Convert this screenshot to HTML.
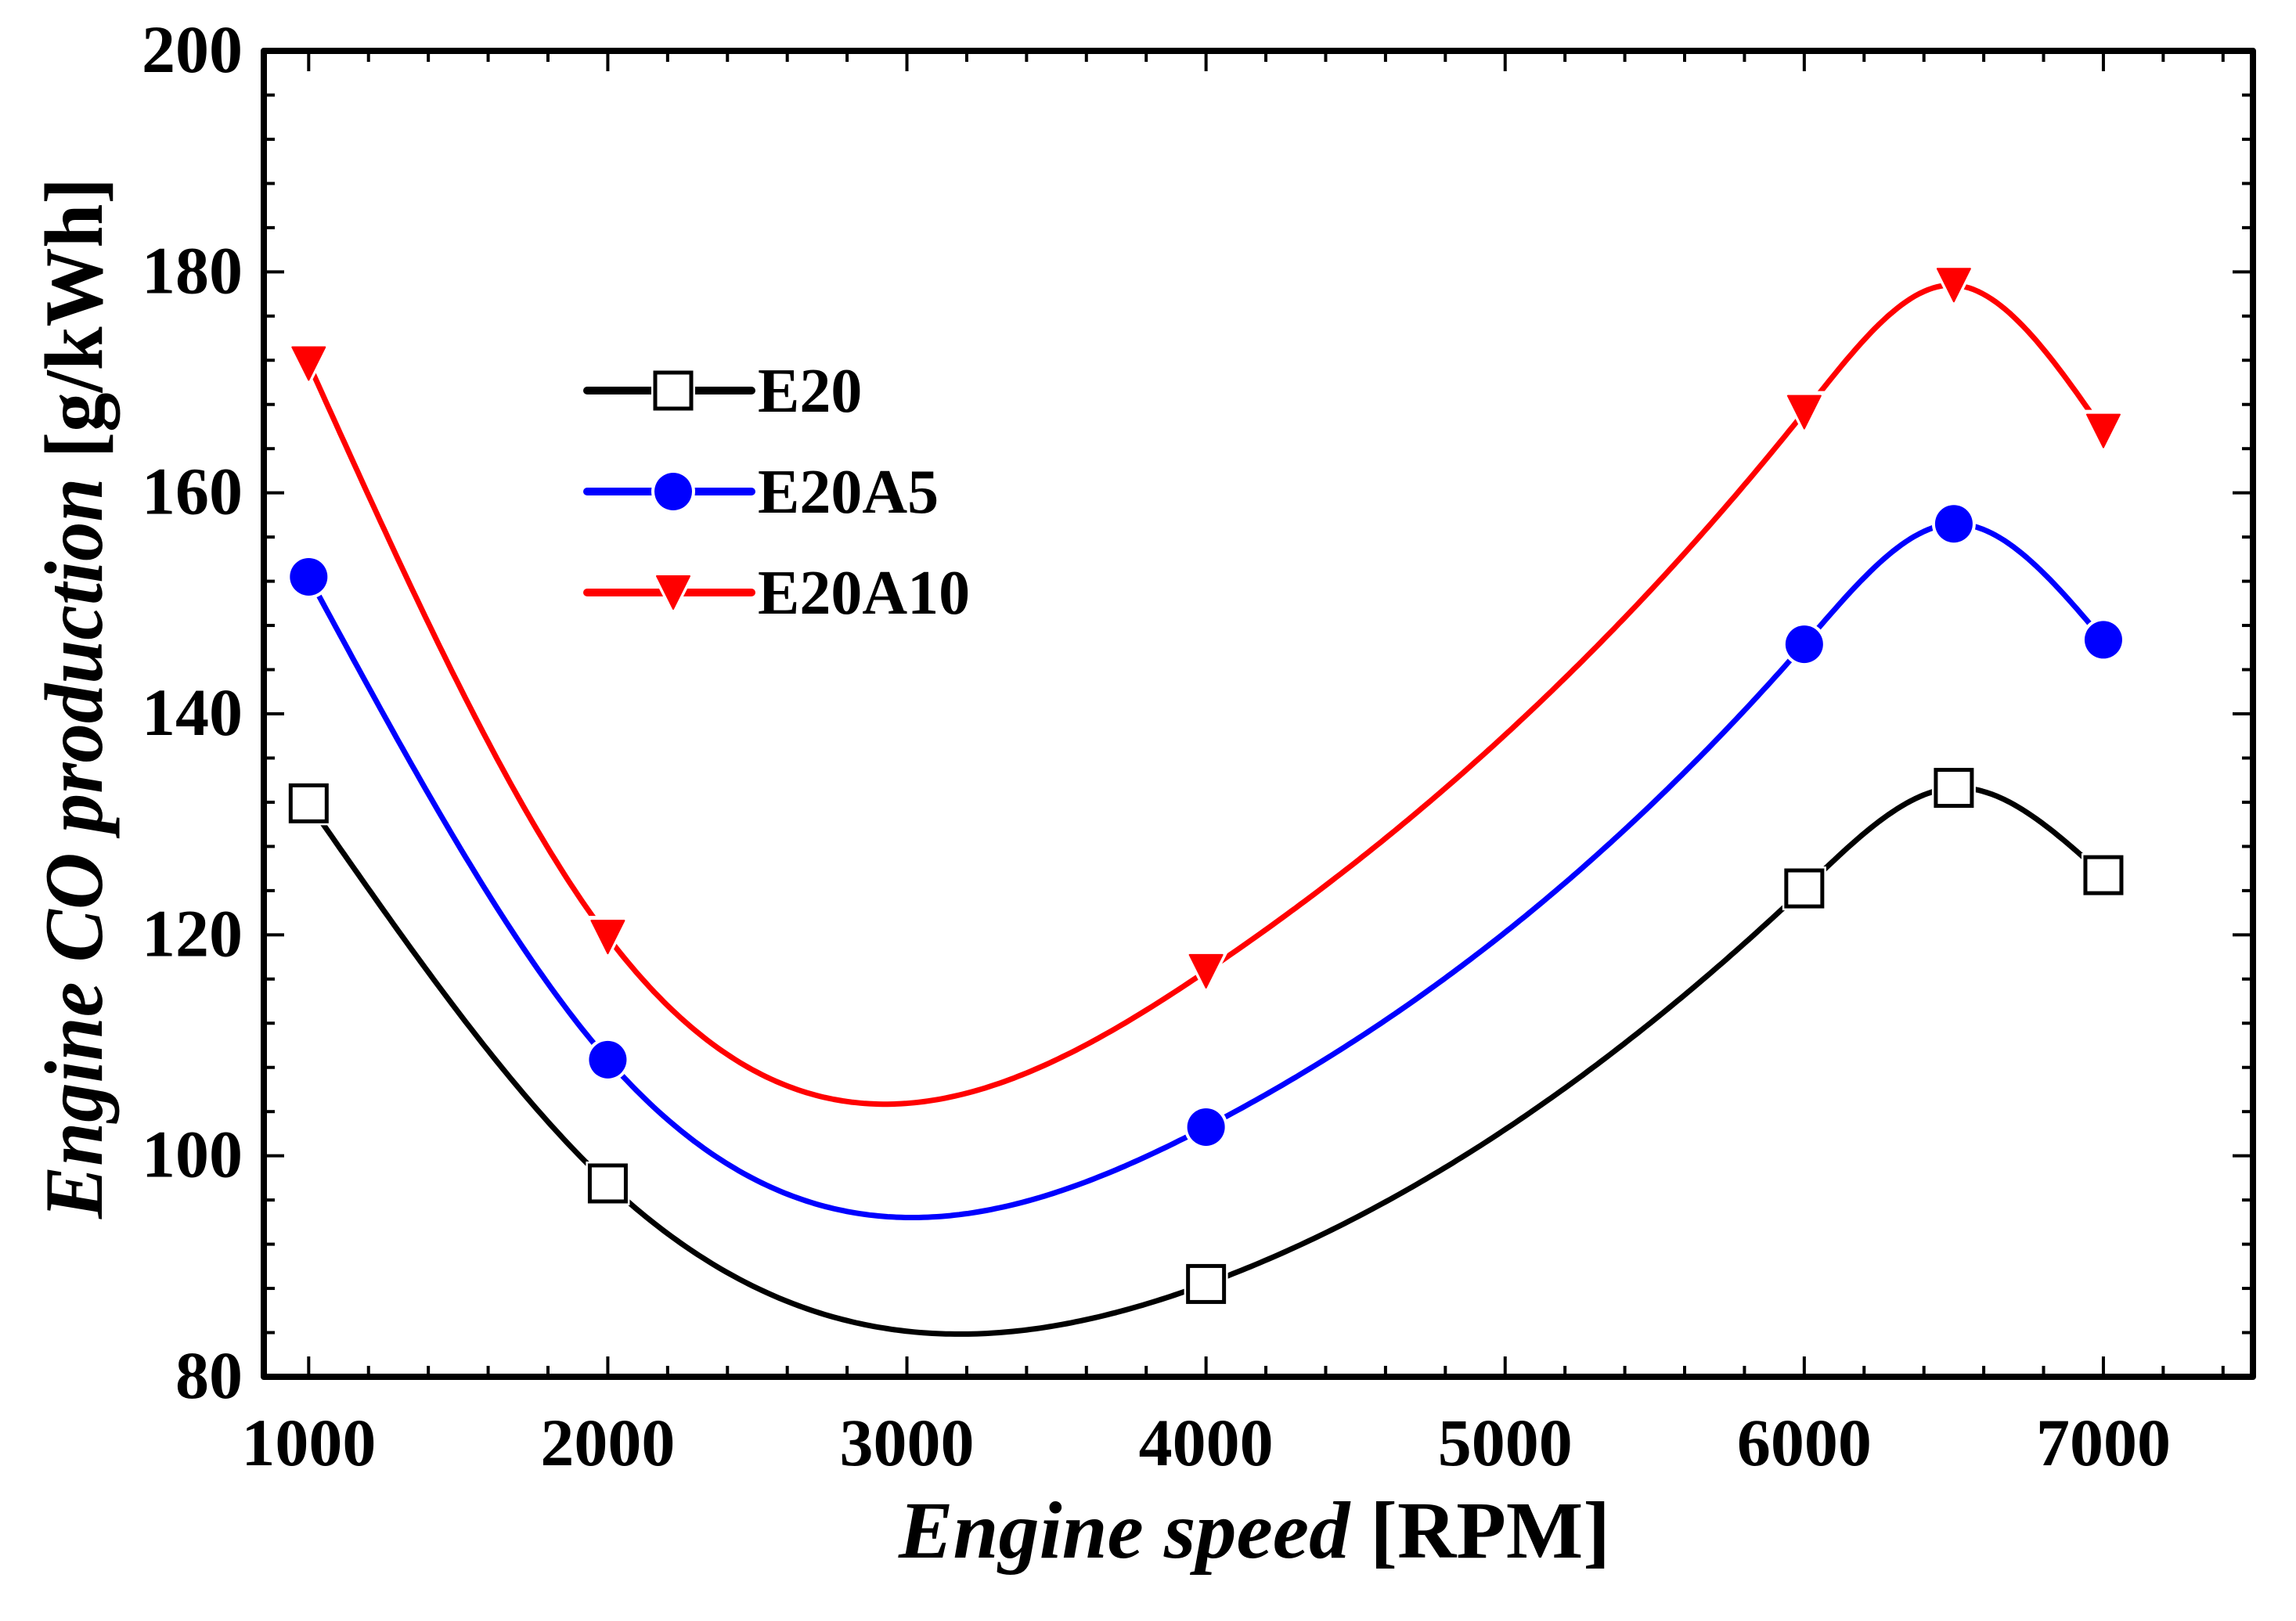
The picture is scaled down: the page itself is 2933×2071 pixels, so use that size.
<!DOCTYPE html>
<html><head><meta charset="utf-8"><style>
html,body{margin:0;padding:0;background:#fff;}
svg{display:block;}
text{font-family:"Liberation Serif",serif;font-weight:bold;fill:#000;}
</style></head><body>
<svg id="chart" width="2933" height="2071" viewBox="0 0 2933 2071" xmlns="http://www.w3.org/2000/svg">
<rect x="0" y="0" width="2933" height="2071" fill="#fff"/>
<g id="curves"></g>
<g id="markers"></g>
<g id="axes"></g>
<text x="1148" y="1990" font-size="104" textLength="909" lengthAdjust="spacingAndGlyphs"><tspan font-style="italic">Engine speed</tspan> [RPM]</text>
<text transform="translate(130,1557) rotate(-90)" x="0" y="0" font-size="106" textLength="1330" lengthAdjust="spacingAndGlyphs"><tspan font-style="italic">Engine CO production</tspan> [g/kWh]</text>
<g id="legend"></g>
</svg>
<script>
const categories = [1000, 2000, 4000, 6000, 6500, 7000];
const seriesE20 = [131.9, 97.5, 88.4, 124.2, 133.3, 125.4];
const seriesE20A5 = [152.4, 108.7, 102.6, 146.3, 157.2, 146.7];
const seriesE20A10 = [171.7, 119.8, 116.7, 167.3, 178.8, 165.6];
const seriesNames = ["E20", "E20A5", "E20A10"];
const xTickLabels = [1000, 2000, 3000, 4000, 5000, 6000, 7000];
const yTickLabels = [80, 100, 120, 140, 160, 180, 200];

const NS = "http://www.w3.org/2000/svg";
const L = 337, R = 2878, T = 65, B = 1759;
const XMIN = 850, XMAX = 7500, YMIN = 80, YMAX = 200;
function xs(v){ return L + (v - XMIN) / (XMAX - XMIN) * (R - L); }
function ys(v){ return B - (v - YMIN) / (YMAX - YMIN) * (B - T); }
function mk(tag, attrs, parent){ const e = document.createElementNS(NS, tag); for (const k in attrs) e.setAttribute(k, attrs[k]); parent.appendChild(e); return e; }

const axes = document.getElementById('axes');
// frame
const frame = mk('rect', {x:L, y:T, width:R-L, height:B-T, fill:'none', stroke:'#000', 'stroke-width':8, 'stroke-linejoin':'round'}, axes);


// x ticks
for (let v = 1000; v <= 7400; v += 200) {
  const major = (v % 1000 === 0);
  const len = major ? 26 : 14;
  const x = xs(v);
  const t1 = mk('line', {x1:x, y1:B, x2:x, y2:B-len, stroke:'#000', 'stroke-width':4}, axes);
  
  
  const t2 = mk('line', {x1:x, y1:T, x2:x, y2:T+len, stroke:'#000', 'stroke-width':4}, axes);
  
  
}
xTickLabels.forEach(v => {
  const t = mk('text', {x:xs(v), y:1872, 'font-size':86, 'text-anchor':'middle'}, axes);
  t.textContent = v;
  
  
});
// y ticks
for (let v = 84; v < 200; v += 4) {
  const major = (v % 20 === 0);
  const len = major ? 26 : 14;
  const y = ys(v);
  const t1 = mk('line', {x1:L, y1:y, x2:L+len, y2:y, stroke:'#000', 'stroke-width':4}, axes);
  
  
  const t2 = mk('line', {x1:R, y1:y, x2:R-len, y2:y, stroke:'#000', 'stroke-width':4}, axes);
  
  
}
yTickLabels.forEach(v => {
  const t = mk('text', {x:310, y:ys(v)+27, 'font-size':86, 'text-anchor':'end'}, axes);
  t.textContent = v;
  
  
});

// natural cubic spline
function spline(xv, yv){
  const n = xv.length, h = [], al = [0], l = [1], mu = [0], z = [0], c = new Array(n).fill(0), b = [], d = [];
  for (let i = 0; i < n-1; i++) h.push(xv[i+1]-xv[i]);
  for (let i = 1; i < n-1; i++) al.push(3/h[i]*(yv[i+1]-yv[i]) - 3/h[i-1]*(yv[i]-yv[i-1]));
  for (let i = 1; i < n-1; i++) { l[i] = 2*(xv[i+1]-xv[i-1]) - h[i-1]*mu[i-1]; mu[i] = h[i]/l[i]; z[i] = (al[i]-h[i-1]*z[i-1])/l[i]; }
  for (let j = n-2; j >= 0; j--) { c[j] = (j < n-2 || true) ? (z[j] || 0) - (mu[j] || 0)*c[j+1] : 0; b[j] = (yv[j+1]-yv[j])/h[j] - h[j]*(c[j+1]+2*c[j])/3; d[j] = (c[j+1]-c[j])/(3*h[j]); }
  c[0] = 0;
  for (let j = 0; j < n-1; j++) { b[j] = (yv[j+1]-yv[j])/h[j] - h[j]*(c[j+1]+2*c[j])/3; d[j] = (c[j+1]-c[j])/(3*h[j]); }
  return function(x){
    let j = 0; while (j < n-2 && x > xv[j+1]) j++;
    const dx = x - xv[j];
    return yv[j] + b[j]*dx + c[j]*dx*dx + d[j]*dx*dx*dx;
  };
}

const series = [
  {name:seriesNames[0], vals:seriesE20, color:'#000', marker:'square'},
  {name:seriesNames[1], vals:seriesE20A5, color:'#0000ff', marker:'circle'},
  {name:seriesNames[2], vals:seriesE20A10, color:'#ff0000', marker:'triangle'}
];
const curves = document.getElementById('curves');
const markers = document.getElementById('markers');

function drawMarker(type, cx, cy, color, parent, name){
  let e;
  if (type === 'square') {
    const w = mk('rect', {x:cx-28, y:cy-28, width:56, height:56, fill:'#fff'}, parent);
    
    
    e = mk('rect', {x:cx-23, y:cy-23, width:46, height:46, fill:'#fff', stroke:color, 'stroke-width':5}, parent);
  } else if (type === 'circle') {
    const w = mk('circle', {cx:cx, cy:cy, r:28, fill:'#fff'}, parent);
    
    
    e = mk('circle', {cx:cx, cy:cy, r:24, fill:color}, parent);
  } else {
    const w = mk('polygon', {points:`${cx-26},${cy-25} ${cx+26},${cy-25} ${cx},${cy+26}`, fill:'#fff', stroke:'#fff', 'stroke-width':4, 'stroke-linejoin':'round'}, parent);
    
    
    e = mk('polygon', {points:`${cx-21},${cy-21} ${cx+21},${cy-21} ${cx},${cy+21}`, fill:color, stroke:color, 'stroke-width':2, 'stroke-linejoin':'round'}, parent);
  }
  
  
}

series.forEach(s => {
  const f = spline(categories, s.vals);
  let d = '';
  const x0 = categories[0], x1 = categories[categories.length-1];
  for (let i = 0; i <= 400; i++) {
    const xv = x0 + (x1-x0)*i/400;
    d += (i ? 'L' : 'M') + xs(xv).toFixed(1) + ',' + ys(f(xv)).toFixed(1);
  }
  const p = mk('path', {d:d, fill:'none', stroke:s.color, 'stroke-width':7, 'stroke-linejoin':'round', 'stroke-linecap':'round'}, curves);
  
  
  categories.forEach((c, i) => {
    drawMarker(s.marker, xs(c), ys(s.vals[i]), s.color, markers, 'point-' + s.name.toLowerCase() + '-' + c);
  });
});

// legend
const legend = document.getElementById('legend');
const legendRows = [499, 628, 757];
series.forEach((s, i) => {
  const y = legendRows[i];
  const ln = mk('line', {x1:750, y1:y, x2:960, y2:y, stroke:s.color, 'stroke-width':10, 'stroke-linecap':'round'}, legend);
  
  
  drawMarker(s.marker, 860, s.marker === 'triangle' ? y : y, s.color, legend, 'legend-marker-' + s.name.toLowerCase());
  const t = mk('text', {x:968, y:y+27, 'font-size':80}, legend);
  t.textContent = s.name;
  
  
});
</script>
</body></html>
